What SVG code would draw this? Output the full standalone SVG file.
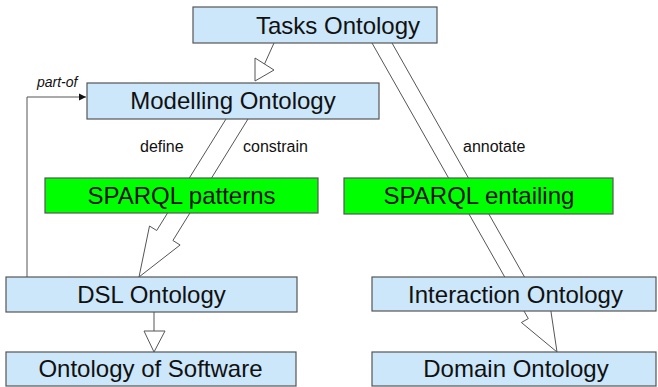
<svg xmlns="http://www.w3.org/2000/svg" width="658" height="387" viewBox="0 0 658 387">
<style>
.box{fill:#cce6fa;stroke:#555;stroke-width:1.2}
.green{fill:#00ff00;stroke:#555;stroke-width:1.2}
.t{font-family:"Liberation Sans",Arial,sans-serif;font-size:24px;fill:#111;text-anchor:middle}
.lbl{font-family:"Liberation Sans",Arial,sans-serif;font-size:16px;fill:#111}
.it{font-family:"Liberation Sans",Arial,sans-serif;font-size:14px;font-style:italic;fill:#111}
.c{fill:none;stroke:#555;stroke-width:1}
.h{fill:#fff;stroke:#555;stroke-width:1}
</style>
<defs>
<marker id="fa" markerWidth="8" markerHeight="8" refX="7" refY="4" orient="auto" markerUnits="userSpaceOnUse">
<path d="M0,0.5 L7,4 L0,7.5 Z" fill="#111"/>
</marker>
</defs>
<rect width="658" height="387" fill="#fff"/>
<g id="connectors">
<path class="c" d="M226,119 L156.7,230.5 L149.5,226 L139,277 L180.1,245 L172.9,240.5 L248,119"/>
<path class="c" d="M372,43 L528.3,318.6 L521.4,322.5 L557,352 L550.2,306.3 L543.3,310.2 L392,43"/>
<path class="c" d="M274,43 L264.5,64"/>
<path class="h" d="M255,58 L274,70 L255,81 Z"/>
<path class="c" d="M154,312 L154,331"/>
<path class="h" d="M144,331 L165,331 L154,352 Z"/>
<path class="c" d="M27,277 L27,97 L86,97" marker-end="url(#fa)"/>
<text class="it" x="37" y="87">part-of</text>
<text class="lbl" x="140" y="152">define</text>
<text class="lbl" x="243" y="152">constrain</text>
<text class="lbl" x="463" y="152">annotate</text>
</g>
<g id="tasks">
<rect class="box" x="193" y="7" width="244" height="36"/>
<text class="t" x="338" y="33.5">Tasks Ontology</text>
</g>
<g id="modelling">
<rect class="box" x="87" y="83" width="292" height="36"/>
<text class="t" x="233" y="109">Modelling Ontology</text>
</g>
<g id="sparql-patterns">
<rect class="green" x="45" y="178" width="273" height="35"/>
<text class="t" x="181.5" y="204">SPARQL patterns</text>
</g>
<g id="sparql-entailing">
<rect class="green" x="344" y="178" width="269" height="36"/>
<text class="t" x="479" y="204">SPARQL entailing</text>
</g>
<g id="dsl">
<rect class="box" x="6" y="277" width="291" height="35"/>
<text class="t" x="151.5" y="303">DSL Ontology</text>
</g>
<g id="interaction">
<rect class="box" x="372" y="277" width="284" height="34"/>
<text class="t" x="515.5" y="303">Interaction Ontology</text>
</g>
<g id="software">
<rect class="box" x="6" y="352" width="290" height="34"/>
<text class="t" x="150.5" y="377">Ontology of Software</text>
</g>
<g id="domain">
<rect class="box" x="372" y="352" width="284" height="34"/>
<text class="t" x="516" y="377">Domain Ontology</text>
</g>
</svg>
